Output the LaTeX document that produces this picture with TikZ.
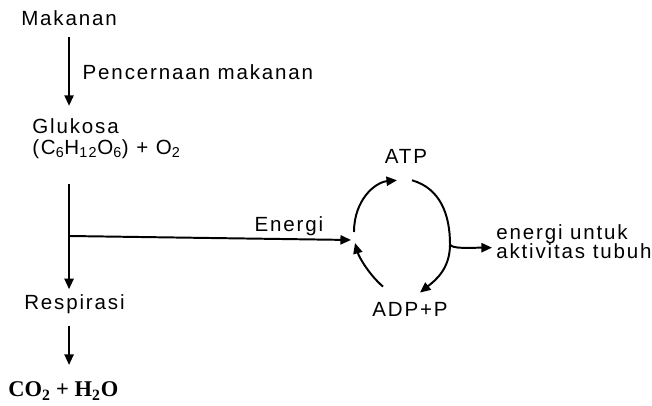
\documentclass[tikz,border=0pt]{standalone}
\usepackage{fontspec}
\setmainfont{Liberation Sans}[LetterSpace=9]
\newfontfamily\chemfont{Liberation Serif}
\usetikzlibrary{arrows.meta,positioning,calc}

\begin{document}
\begin{tikzpicture}[x=0.025cm,y=-0.025cm,
  font=\fontsize{14.6pt}{14pt}\selectfont,
  txt/.style={inner sep=0pt,anchor=base west},
  arr/.style={-{Triangle[length=7.5pt,width=6.5pt]},line width=1.4pt},
  lab/.style={inner sep=0pt}]
\useasboundingbox (0,0) rectangle (652,406);
% left column
\node[txt] (mak) at (21,26) {Makanan};
\node[txt,anchor=north west,align=left,font=\fontsize{14.6pt}{14.9pt}\selectfont] (glu) at (32,118.5)
  {Glukosa\\(C\textsubscript{6}H\textsubscript{12}O\textsubscript{6}) + O\textsubscript{2}};
\node[txt] (resp) at (24,310) {Respirasi};
\node[txt,font=\chemfont\bfseries\fontsize{16pt}{18pt}\selectfont] (prod) at (8,397) {CO\textsubscript{2} + H\textsubscript{2}O};
\draw[arr,shorten <=7.8pt,shorten >=9pt] (mak.south) -- node[lab,pos=0.5,right=9pt]{Pencernaan makanan} (mak.south |- glu.north);
\draw[arr,shorten <=18pt,shorten >=4pt] (glu.south -| mak.south) -- (resp.north -| mak.south);
\draw[arr,shorten <=7.8pt,shorten >=12pt] (resp.south -| mak.south) -- (prod.north -| mak.south);
\coordinate (fork) at (mak.south |- 0,236);
\coordinate (jn) at (351,240);
\draw[arr] (fork) -- node[lab,pos=0.78,above=2pt]{Energi} (jn);
% ATP cycle
\node[txt,anchor=base] (atp) at (406,164) {ATP};
\node[txt,anchor=base] (adp) at (410,317) {ADP+P};
\node[txt,anchor=north west,align=left] (use) at (496,224) {energi untuk\\aktivitas tubuh};
\draw[arr] ([shift={(3,-8)}]jn) .. controls +(0,-32) and +(-22,2) .. ([shift={(-9,16)}]atp.south);
\draw[arr] ([shift={(6,16)}]atp.south) .. controls +(28,8) and +(0,-30) .. ([shift={(44,80)}]atp.south) coordinate (tap)
  .. controls +(0,25) and +(15,-12) .. ([shift={(10,-10)}]adp.north);
\draw[arr] ([shift={(-27,-16)}]adp.north) .. controls +(-14,-12) and +(4,14) .. ([shift={(4,3)}]jn);
\draw[arr] (tap) .. controls +(1,5) and +(-20,0) .. ([shift={(-4,6)}]use.west);
\end{tikzpicture}
\end{document}
